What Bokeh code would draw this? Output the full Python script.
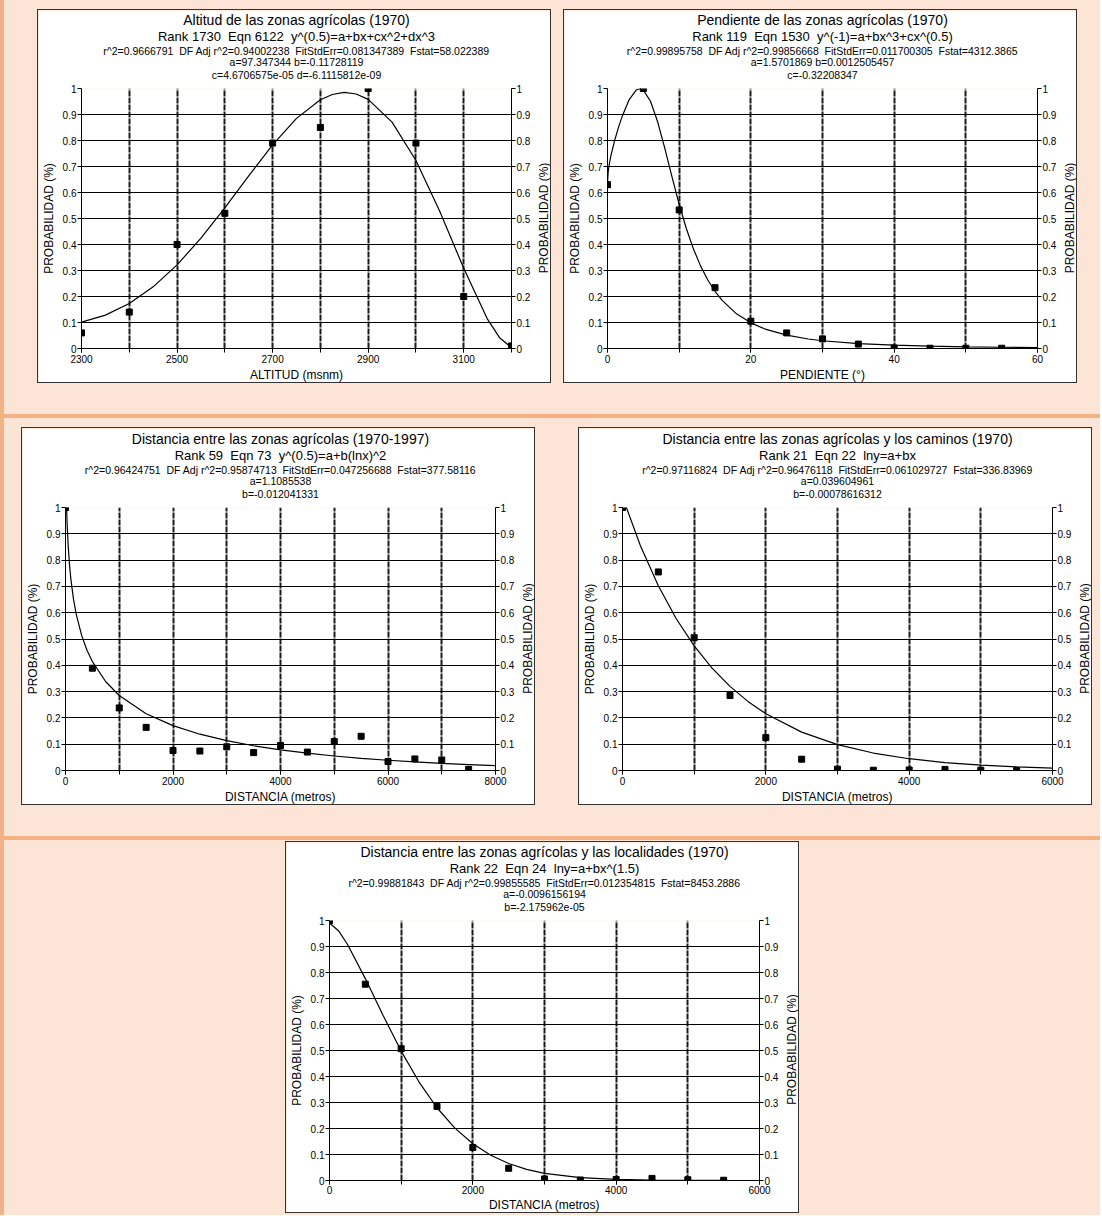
from math import pi
from bokeh.plotting import figure
from bokeh.models import Range1d, FixedTicker, LinearAxis, Title, Spacer, Label
from bokeh.layouts import row, column
from bokeh.embed import file_html
from bokeh.resources import INLINE

FONT = "Liberation Sans"
PEACH = "#FCE4D6"
ORANGE = "#F4B183"
INK = "#000000"
SP2 = " \u00a0"  # double space that survives SVG whitespace collapsing

Y_TICKS = [0, 0.1, 0.2, 0.3, 0.4, 0.5, 0.6, 0.7, 0.8, 0.9, 1]
Y_TICK_LABELS = ["0", "0.1", "0.2", "0.3", "0.4", "0.5", "0.6", "0.7", "0.8", "0.9", "1"]
Y_LABEL = "PROBABILIDAD (%)"

# ---- Panel 1: Altitud ----
ALT_TITLES = [
    "Altitud de las zonas agrícolas (1970)",
    "Rank 1730" + SP2 + "Eqn 6122" + SP2 + "y^(0.5)=a+bx+cx^2+dx^3",
    "r^2=0.9666791" + SP2 + "DF Adj r^2=0.94002238" + SP2 + "FitStdErr=0.081347389" + SP2 + "Fstat=58.022389",
    "a=97.347344 b=-0.11728119",
    "c=4.6706575e-05 d=-6.1115812e-09",
]
ALT_XLABEL = "ALTITUD (msnm)"
ALT_X_MAJOR = [2300, 2500, 2700, 2900, 3100]
ALT_X_MINOR = [2300, 2400, 2500, 2600, 2700, 2800, 2900, 3000, 3100, 3200]
ALT_X = [2300, 2400, 2500, 2600, 2700, 2800, 2900, 3000, 3100, 3200]
ALT_Y = [0.06, 0.14, 0.40, 0.52, 0.79, 0.85, 1.00, 0.79, 0.20, 0.01]
ALT_FIT_X = [2300, 2350, 2400, 2450, 2500, 2550, 2600, 2650, 2700, 2750, 2800,
             2825, 2850, 2875, 2900, 2950, 3000, 3050, 3100, 3150, 3175, 3200]
ALT_FIT_Y = [0.1016, 0.1284, 0.1729, 0.2371, 0.3215, 0.4243, 0.5410, 0.6640, 0.7829,
             0.8850, 0.9568, 0.9770, 0.9848, 0.9788, 0.9581, 0.8705, 0.7230, 0.5271,
             0.3088, 0.1120, 0.0416, 0.0034]

# ---- Panel 2: Pendiente ----
PEN_TITLES = [
    "Pendiente de las zonas agrícolas (1970)",
    "Rank 119" + SP2 + "Eqn 1530" + SP2 + "y^(-1)=a+bx^3+cx^(0.5)",
    "r^2=0.99895758" + SP2 + "DF Adj r^2=0.99856668" + SP2 + "FitStdErr=0.011700305" + SP2 + "Fstat=4312.3865",
    "a=1.5701869 b=0.0012505457",
    "c=-0.32208347",
]
PEN_XLABEL = "PENDIENTE (°)"
PEN_X_MAJOR = [0, 20, 40, 60]
PEN_X_MINOR = [0, 10, 20, 30, 40, 50, 60]
PEN_X = [0, 5, 10, 15, 20, 25, 30, 35, 40, 45, 50, 55]
PEN_Y = [0.63, 1.00, 0.533, 0.234, 0.105, 0.060, 0.037, 0.017, 0.002, 0.001, 0.001, 0.001]
PEN_FIT_X = [0, 0.1, 0.25, 0.5, 1, 1.5, 2, 3, 4, 4.5, 5, 6, 7, 8, 9, 10, 11, 12, 13, 14,
             15, 16, 18, 20, 22, 25, 28, 30, 35, 40, 45, 50, 55, 60]
PEN_FIT_Y = [0.6369, 0.6810, 0.7096, 0.7448, 0.8004, 0.8475, 0.8891, 0.9559, 0.9940,
             0.9991, 0.9937, 0.9511, 0.8719, 0.7696, 0.6598, 0.5549, 0.4616, 0.3824,
             0.3168, 0.2634, 0.2201, 0.1850, 0.1334, 0.0987, 0.0748, 0.0513, 0.0366,
             0.0298, 0.0188, 0.0126, 0.0088, 0.0064, 0.0048, 0.0037]

# ---- Panel 3: Distancia 1970-1997 ----
DIS_TITLES = [
    "Distancia entre las zonas agrícolas (1970-1997)",
    "Rank 59" + SP2 + "Eqn 73" + SP2 + "y^(0.5)=a+b(lnx)^2",
    "r^2=0.96424751" + SP2 + "DF Adj r^2=0.95874713" + SP2 + "FitStdErr=0.047256688" + SP2 + "Fstat=377.58116",
    "a=1.1085538",
    "b=-0.012041331",
]
DIS_XLABEL = "DISTANCIA (metros)"
DIS_X_MAJOR = [0, 2000, 4000, 6000, 8000]
DIS_X_MINOR = [0, 1000, 2000, 3000, 4000, 5000, 6000, 7000, 8000]
DIS_X = [0, 500, 1000, 1500, 2000, 2500, 3000, 3500, 4000, 4500, 5000, 5500, 6000, 6500, 7000, 7500]
DIS_Y = [1.00, 0.389, 0.238, 0.164, 0.076, 0.074, 0.090, 0.068, 0.095, 0.070, 0.110, 0.130,
         0.034, 0.044, 0.040, 0.004]
DIS_FIT_X = [20, 30, 50, 75, 100, 150, 200, 300, 400, 500, 750, 1000, 1500, 2000, 2500,
             3000, 3500, 4000, 4500, 5000, 5500, 6000, 6500, 7000, 7500, 8000]
DIS_FIT_Y = [1.0010, 0.9395, 0.8543, 0.7816, 0.7279, 0.6500, 0.5937, 0.5138, 0.4574,
             0.4141, 0.3374, 0.2851, 0.2158, 0.1705, 0.1380, 0.1134, 0.0940, 0.0785,
             0.0658, 0.0552, 0.0464, 0.0389, 0.0325, 0.0271, 0.0225, 0.0185]

# ---- Panel 4: Distancia a caminos ----
CAM_TITLES = [
    "Distancia entre las zonas agrícolas y los caminos (1970)",
    "Rank 21" + SP2 + "Eqn 22" + SP2 + "lny=a+bx",
    "r^2=0.97116824" + SP2 + "DF Adj r^2=0.96476118" + SP2 + "FitStdErr=0.061029727" + SP2 + "Fstat=336.83969",
    "a=0.039604961",
    "b=-0.00078616312",
]
CAM_XLABEL = "DISTANCIA (metros)"
CAM_X_MAJOR = [0, 2000, 4000, 6000]
CAM_X_MINOR = [0, 1000, 2000, 3000, 4000, 5000, 6000]
CAM_X = [0, 500, 1000, 1500, 2000, 2500, 3000, 3500, 4000, 4500, 5000, 5500]
CAM_Y = [1.00, 0.755, 0.505, 0.285, 0.125, 0.043, 0.005, 0.001, 0.002, 0.004, 0.001, 0.000]
CAM_FIT_X = [0, 250, 500, 750, 1000, 1250, 1500, 1750, 2000, 2500, 3000, 3500, 4000,
             4500, 5000, 5500, 6000]
CAM_FIT_Y = [1.0404, 0.8548, 0.7022, 0.5769, 0.4740, 0.3894, 0.3199, 0.2628, 0.2159,
             0.1458, 0.0984, 0.0664, 0.0448, 0.0303, 0.0204, 0.0138, 0.0093]

# ---- Panel 5: Distancia a localidades ----
LOC_TITLES = [
    "Distancia entre las zonas agrícolas y las localidades (1970)",
    "Rank 22" + SP2 + "Eqn 24" + SP2 + "lny=a+bx^(1.5)",
    "r^2=0.99881843" + SP2 + "DF Adj r^2=0.99855585" + SP2 + "FitStdErr=0.012354815" + SP2 + "Fstat=8453.2886",
    "a=-0.0096156194",
    "b=-2.175962e-05",
]
LOC_XLABEL = "DISTANCIA (metros)"
LOC_X_MAJOR = [0, 2000, 4000, 6000]
LOC_X_MINOR = [0, 1000, 2000, 3000, 4000, 5000, 6000]
LOC_X = [0, 500, 1000, 1500, 2000, 2500, 3000, 3500, 4000, 4500, 5000, 5500]
LOC_Y = [1.00, 0.755, 0.507, 0.285, 0.127, 0.047, 0.006, 0.002, 0.004, 0.008, 0.003, 0.001]
LOC_FIT_X = [0, 125, 250, 500, 750, 1000, 1250, 1500, 1750, 2000, 2250, 2500, 2750,
             3000, 3500, 4000, 4500, 5000, 5500, 6000]
LOC_FIT_Y = [0.9904, 0.9608, 0.9088, 0.7765, 0.6335, 0.4977, 0.3786, 0.2798, 0.2014,
             0.1414, 0.0971, 0.0652, 0.0430, 0.0277, 0.0109, 0.0040, 0.0014, 0.0005,
             0.0001, 0.0000]

# title stack (line 1 .. line 5): font size, standoff, vertical alignment
TITLE_SIZES = ["14px", "13px", "10.5px", "10.5px", "10.5px"]
TITLE_STANDOFFS = [-1.6, -2.5, 4.3, -11.7, 12.3]
TITLE_VALIGN = ["bottom", "bottom", "top", "bottom", "top"]

PANEL_W = 514
BORDER_L = 42
BORDER_R = 41


def style_axis(ax, tick_standoff, label_standoff):
    ax.axis_line_color = INK
    ax.axis_line_width = 1
    ax.major_tick_line_color = INK
    ax.major_tick_in = 0
    ax.major_tick_out = 4
    ax.minor_tick_line_color = INK
    ax.minor_tick_in = 0
    ax.minor_tick_out = 4
    ax.major_label_text_font = FONT
    ax.major_label_text_font_size = "10px"
    ax.major_label_text_color = INK
    ax.major_label_standoff = tick_standoff
    ax.axis_label_text_font = FONT
    ax.axis_label_text_font_size = "12px"
    ax.axis_label_text_font_style = "normal"
    ax.axis_label_text_color = INK
    ax.axis_label_standoff = label_standoff


def make_panel(lines, x0, x1, x_major, x_minor, xlabel, px, py, fx, fy,
               top=78, frame_h=261, bottom=35, x_std=(2, 2), margin=(0, 0, 0, 0)):
    p = figure(width=PANEL_W, height=top + frame_h + bottom,
               x_range=Range1d(x0, x1), y_range=Range1d(0, 1),
               output_backend="svg", toolbar_location=None,
               min_border_left=BORDER_L, min_border_right=BORDER_R,
               min_border_top=top, min_border_bottom=bottom,
               background_fill_color="white", border_fill_color="white",
               outline_line_color=None, margin=margin,
               styles={"border": "1px solid #333333"})
    stack = list(zip(lines, TITLE_SIZES, TITLE_STANDOFFS, TITLE_VALIGN))
    for text, size, so, va in reversed(stack):
        p.add_layout(Title(text=text, align="center", vertical_align=va,
                           text_font=FONT, text_font_size=size,
                           text_font_style="normal", text_color=INK,
                           standoff=so), "above")

    xa = p.xaxis[0]
    xa.ticker = FixedTicker(ticks=x_major, minor_ticks=x_minor)
    xa.axis_label = xlabel
    style_axis(xa, x_std[0], x_std[1])

    ya = p.yaxis[0]
    ya.ticker = FixedTicker(ticks=Y_TICKS)
    ya.major_label_overrides = dict(zip(Y_TICKS, Y_TICK_LABELS))
    ya.axis_label = Y_LABEL
    style_axis(ya, 1, 4)

    ra = LinearAxis(ticker=FixedTicker(ticks=Y_TICKS),
                    major_label_overrides=dict(zip(Y_TICKS, Y_TICK_LABELS)))
    style_axis(ra, 1, 4)
    p.add_layout(ra, "right")

    # right-hand axis title, outside the right axis, reading bottom-to-top
    p.add_layout(Label(x=10, y=frame_h / 2, x_units="screen", y_units="screen",
                       text=Y_LABEL, angle=pi / 2, text_align="center",
                       text_baseline="middle", text_font=FONT, text_font_size="12px",
                       text_color=INK), "right")

    p.xgrid.ticker = FixedTicker(ticks=x_minor)
    p.xgrid.grid_line_color = "#1a1a1a"
    p.xgrid.grid_line_width = 2
    p.xgrid.grid_line_dash = "6 1"
    p.ygrid.ticker = FixedTicker(ticks=Y_TICKS)
    p.ygrid.grid_line_color = INK
    p.ygrid.grid_line_width = 1

    p.line(fx, fy, line_color=INK, line_width=1.2)
    p.scatter(px, py, marker="square", size=6, color=INK)
    return p


p1 = make_panel(ALT_TITLES, 2300, 3200, ALT_X_MAJOR, ALT_X_MINOR, ALT_XLABEL,
                ALT_X, ALT_Y, ALT_FIT_X, ALT_FIT_Y, margin=(9, 0, 0, 33))
p2 = make_panel(PEN_TITLES, 0, 60, PEN_X_MAJOR, PEN_X_MINOR, PEN_XLABEL,
                PEN_X, PEN_Y, PEN_FIT_X, PEN_FIT_Y, margin=(9, 0, 0, 12))
p3 = make_panel(DIS_TITLES, 0, 8000, DIS_X_MAJOR, DIS_X_MINOR, DIS_XLABEL,
                DIS_X, DIS_Y, DIS_FIT_X, DIS_FIT_Y, top=79, frame_h=264,
                margin=(9, 0, 0, 17))
p4 = make_panel(CAM_TITLES, 0, 6000, CAM_X_MAJOR, CAM_X_MINOR, CAM_XLABEL,
                CAM_X, CAM_Y, CAM_FIT_X, CAM_FIT_Y, top=79, frame_h=264,
                margin=(9, 0, 0, 43))
p5 = make_panel(LOC_TITLES, 0, 6000, LOC_X_MAJOR, LOC_X_MINOR, LOC_XLABEL,
                LOC_X, LOC_Y, LOC_FIT_X, LOC_FIT_Y, top=78, frame_h=262,
                bottom=32, x_std=(1, 1), margin=(1, 0, 0, 281))


def bar(w, h):
    return Spacer(width=w, height=h, styles={"background-color": ORANGE})


W = 1100
row1 = row(bar(4, 414), p1, p2, width=W, height=414,
           styles={"background-color": PEACH})
row2 = row(bar(4, 418), p3, p4, width=W, height=418,
           styles={"background-color": PEACH})
row3 = row(bar(4, 375), p5, width=W, height=375,
           styles={"background-color": PEACH})

page = column(row1, bar(W, 4), row2, bar(W, 4), row3)

open("out.html", "w").write(file_html(page, INLINE))
